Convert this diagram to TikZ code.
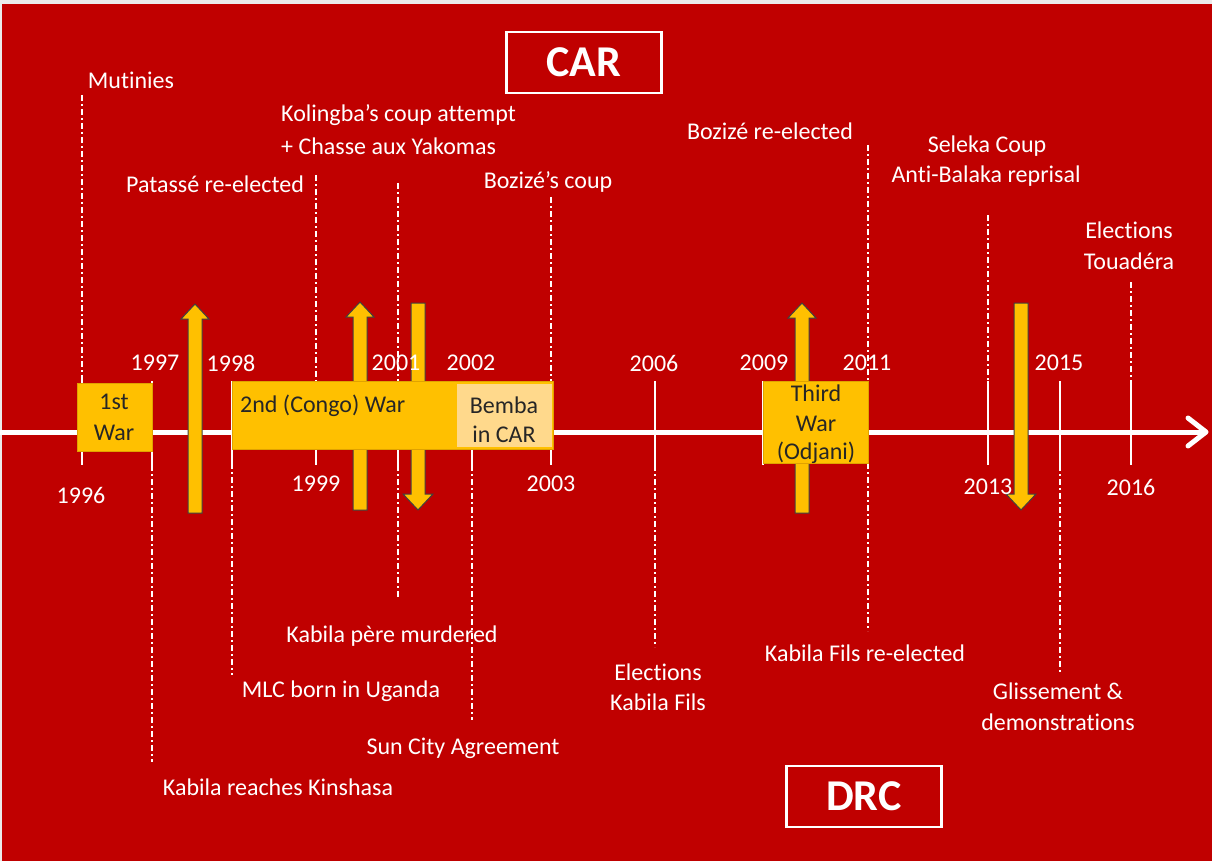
\documentclass[tikz,border=0pt]{standalone}
\usepackage{fontspec}
\setmainfont{Carlito}[Ligatures=NoCommon]
\definecolor{bgred}{HTML}{C00000}
\definecolor{warY}{HTML}{FFC000}
\definecolor{warYd}{HTML}{E0A200}
\definecolor{bembaY}{HTML}{FFD98C}
\definecolor{boxtxt}{HTML}{262626}
\tikzset{
  lbl/.style={text=white, font=\fontsize{24}{28}\selectfont, inner sep=0pt, anchor=center},
  yr/.style={text=white, font=\fontsize{24}{28}\selectfont, inner sep=0pt, anchor=center},
  boxlbl/.style={text=boxtxt, font=\fontsize{24}{28}\selectfont, inner sep=0pt, anchor=center},
  title/.style={text=white, font=\fontsize{44}{48}\selectfont\bfseries, draw=white, line width=2.5pt, minimum width=155pt, minimum height=61pt, inner sep=0pt},
  dd/.style={white, line width=1.3pt, dash pattern=on 6pt off 3pt on 2pt off 3pt},
  tickl/.style={white, line width=2.5pt},
  warbox/.style={fill=warY, draw=warYd, line width=0.8pt},
  fatarr/.style={fill=warY, draw=black!75, line width=1pt, line join=miter},
}
\newcommand\ddline[3]{\coordinate (#1a) at (#2); \coordinate (#1b) at (#3); \draw[dd] (#1a) -- (#1b);}
\newcommand\tickmark[2]{\coordinate (#1a) at (#2,381); \coordinate (#1b) at (#2,465); \draw[tickl] (#1a) -- (#1b);}
% up arrow: center x, tip y, bottom y
\newcommand\myUpArrow[3]{\draw[fatarr] (#1-7,#3) -- (#1-7,#2+15) -- (#1-14,#2+15) -- (#1,#2) -- (#1+14,#2+15) -- (#1+7,#2+15) -- (#1+7,#3) -- cycle;}
% down arrow: center x, top y, tip y
\newcommand\myDownArrow[3]{\draw[fatarr] (#1-7,#2) -- (#1-7,#3-16) -- (#1-15,#3-16) -- (#1,#3) -- (#1+15,#3-16) -- (#1+7,#3-16) -- (#1+7,#2) -- cycle;}
\begin{document}
\begin{tikzpicture}[x=1pt,y=-1pt]
\useasboundingbox (0,0) rectangle (1212,861);
\fill[white!92!black] (0,0) rectangle (1212,861);
\fill[bgred] (2,4) rectangle (1212,861);

% dashed connectors
\ddline{d96}{82,95}{82,383}
\ddline{d99}{316,175}{316,383}
\ddline{d01u}{398,183}{398,383}
\ddline{d03}{551,197}{551,383}
\ddline{d11u}{868,145}{868,381}
\ddline{d13}{988,215}{988,383}
\ddline{d16}{1131,282}{1131,383}
\ddline{d97}{152,465}{152,762}
\ddline{d98}{232,449}{232,675}
\ddline{d01d}{398,465}{398,598}
\ddline{d02}{472,465}{472,720}
\ddline{d06}{655,465}{655,647}
\ddline{d11d}{868,463}{868,631}
\ddline{d15}{1060,465}{1060,673}

% ticks
\tickmark{t96}{82}
\tickmark{t97}{152}
\tickmark{t98}{232}
\tickmark{t99}{316}
\tickmark{t01}{398}
\tickmark{t02}{472}
\tickmark{t03}{551}
\tickmark{t06}{655}
\tickmark{t09}{763}
\tickmark{t11}{868}
\tickmark{t13}{988}
\tickmark{t15}{1060}
\tickmark{t16}{1131}

% axis
\coordinate (axS) at (0,432);
\coordinate (axE) at (1206,432);
\coordinate (axU) at (1188,418);
\coordinate (axD) at (1188,446);
\draw[white, line width=5pt] (axS) -- (1202,432);
\draw[white, line width=5pt, line cap=round, line join=round] (axU) -- (axE) -- (axD);

% fat arrows
\myUpArrow{195}{304}{513}
\myUpArrow{360}{302}{510}
\myDownArrow{418}{303}{510}
\myUpArrow{802}{303}{513}
\myDownArrow{1021}{303}{510}

% war boxes
\node[warbox, minimum width=75pt, minimum height=68pt, inner sep=0pt] (w1) at (114.5,417) {};
\node[boxlbl] (w1a) at (114,402) {1st};
\node[boxlbl] (w1b) at (114,433) {War};

\node[warbox, minimum width=321pt, minimum height=68pt, inner sep=0pt] (w2) at (392.5,415) {};
\fill[bembaY] (457,384) rectangle (552,447);
\node[boxlbl, anchor=west] (w2a) at (240,406) {2nd (Congo) War};
\node[boxlbl] (bem1) at (504,405) {Bemba};
\node[boxlbl] (bem2) at (504,434) {in CAR};

\node[warbox, minimum width=105pt, minimum height=82pt, inner sep=0pt] (w3) at (815.5,422) {};
\node[boxlbl] (w3a) at (816,393) {Third};
\node[boxlbl] (w3b) at (816,424) {War};
\node[boxlbl] (w3c) at (816,453) {(Odjani)};

% title boxes
\node[title] (car) at (584,62.5) {CAR};
\node[title] (drc) at (864,796.5) {DRC};

% years
\node[yr] (y96) at (81,495) {1996};
\node[yr] (y97) at (155,363) {1997};
\node[yr] (y98) at (231,363) {1998};
\node[yr] (y99) at (316,484) {1999};
\node[yr] (y01) at (396,363) {2001};
\node[yr] (y02) at (471,363) {2002};
\node[yr] (y03) at (551,484) {2003};
\node[yr] (y06) at (654,363) {2006};
\node[yr] (y09) at (764,363) {2009};
\node[yr] (y11) at (867,363) {2011};
\node[yr] (y13) at (988,487) {2013};
\node[yr] (y15) at (1059,363) {2015};
\node[yr] (y16) at (1131,487) {2016};

% CAR events
\node[lbl] (e1) at (131,80) {Mutinies};
\node[lbl, anchor=west] (e2) at (281,115) {Kolingba’s coup attempt};
\node[lbl, anchor=west] (e3) at (281,146) {+ Chasse aux Yakomas};
\node[lbl] (e4) at (215,184) {Patassé re-elected};
\node[lbl] (e5) at (548,182) {Bozizé’s coup};
\node[lbl] (e6) at (770,131) {Bozizé re-elected};
\node[lbl] (e7) at (987,146) {Seleka Coup};
\node[lbl] (e8) at (986,176) {Anti-Balaka reprisal};
\node[lbl] (e9) at (1129,230) {Elections};
\node[lbl] (e10) at (1129,261) {Touadéra};

% DRC events
\node[lbl] (f1) at (392,636) {Kabila père murdered};
\node[lbl] (f2) at (341,691) {MLC born in Uganda};
\node[lbl] (f3) at (463,748) {Sun City Agreement};
\node[lbl] (f4) at (278,787) {Kabila reaches Kinshasa};
\node[lbl] (f5) at (658,672) {Elections};
\node[lbl] (f6) at (658,702) {Kabila Fils};
\node[lbl] (f7) at (865,653) {Kabila Fils re-elected};
\node[lbl] (f8) at (1058,691) {Glissement \&};
\node[lbl] (f9) at (1058,722) {demonstrations};
\end{tikzpicture}
\end{document}
